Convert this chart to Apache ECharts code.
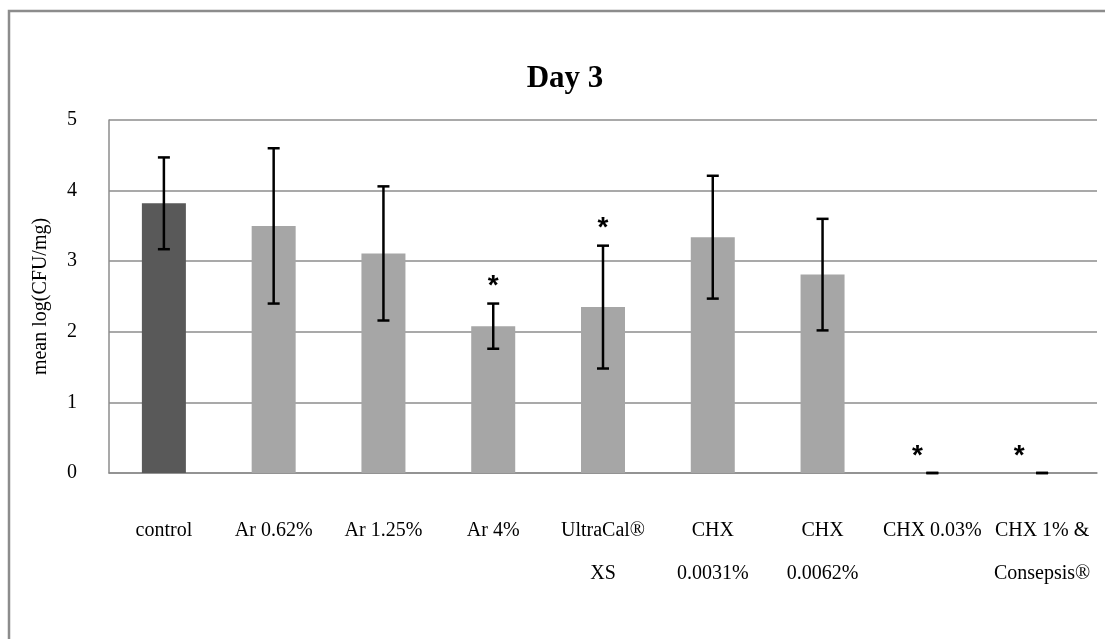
<!DOCTYPE html>
<html>
<head>
<meta charset="utf-8">
<style>
html,body{margin:0;padding:0;background:#fff;}
#chart{width:1105px;height:639px;}
</style>
<script src="https://cdn.jsdelivr.net/npm/echarts@6/dist/echarts.min.js"></script>
</head>
<body>
<div id="chart"></div>
<script>
// ---- data ----
var categories = ['control', 'Ar 0.62%', 'Ar 1.25%', 'Ar 4%', 'UltraCal®\nXS', 'CHX\n0.0031%', 'CHX\n0.0062%', 'CHX 0.03%', 'CHX 1% &\nConsepsis®'];
var means  = [3.82, 3.50, 3.11, 2.08, 2.35, 3.34, 2.81, 0, 0];
var errors = [0.65, 1.10, 0.95, 0.32, 0.87, 0.87, 0.79, 0, 0];
var significant = [false, false, false, true, true, false, false, true, true];
var yTicks = [0, 1, 2, 3, 4, 5];

// ---- styles ----
var serif = '"Liberation Serif", "Times New Roman", serif';
var barColors = ['#595959', '#a6a6a6', '#a6a6a6', '#a6a6a6', '#a6a6a6', '#a6a6a6', '#a6a6a6', '#a6a6a6', '#a6a6a6'];
var starDx = [0, 0, 0, 0, 0, 0, 0, -15, -23];

var chart = echarts.init(document.getElementById('chart'), null, {renderer: 'canvas'});

var barData = means.map(function (v, i) {
  return {value: v, itemStyle: {color: barColors[i]}};
});
var errData = means.map(function (v, i) { return [i, v, errors[i]]; });
var starData = [];
means.forEach(function (v, i) {
  if (significant[i]) starData.push([i, v + errors[i]]);
});

var option = {
  animation: false,
  backgroundColor: '#ffffff',
  title: {
    text: 'Day 3',
    left: 560,
    top: 58,
    textAlign: 'center',
    textStyle: {fontFamily: serif, fontWeight: 'bold', fontSize: 31, color: '#000'}
  },
  graphic: [{
    type: 'rect',
    shape: {x: 9, y: 11, width: 1300, height: 1000},
    style: {fill: 'none', stroke: '#8c8c8c', lineWidth: 2.5},
    silent: true,
    z: -1
  }],
  grid: {left: 109, right: 8, top: 120, bottom: 166},
  xAxis: {
    type: 'category',
    data: categories,
    axisLine: {show: true, lineStyle: {color: '#8c8c8c', width: 1.5}},
    axisTick: {show: false},
    axisLabel: {
      interval: 0,
      margin: 36,
      fontFamily: serif,
      fontSize: 20,
      lineHeight: 43,
      color: '#000'
    }
  },
  yAxis: {
    type: 'value',
    min: yTicks[0],
    max: yTicks[yTicks.length - 1],
    interval: 1,
    name: 'mean log(CFU/mg)',
    nameLocation: 'middle',
    nameGap: 58,
    nameRotate: 90,
    nameTextStyle: {fontFamily: serif, fontSize: 20, color: '#000'},
    axisLine: {show: true, lineStyle: {color: '#8c8c8c', width: 1.5}},
    axisTick: {show: false},
    axisLabel: {margin: 32, fontFamily: serif, fontSize: 20, color: '#000'},
    splitLine: {show: true, lineStyle: {color: '#8c8c8c', width: 1.5}}
  },
  series: [
    {
      type: 'bar',
      data: barData,
      barWidth: 44,
      z: 2
    },
    {
      type: 'custom',
      data: errData,
      z: 5,
      renderItem: function (params, api) {
        var i = api.value(0), m = api.value(1), e = api.value(2);
        var top = api.coord([i, m + e]);
        var bot = api.coord([i, m - e]);
        var hw = 6;
        var st = {stroke: '#000', lineWidth: 2.5};
        return {
          type: 'group',
          children: [
            {type: 'line', shape: {x1: top[0], y1: top[1], x2: bot[0], y2: bot[1]}, style: st},
            {type: 'line', shape: {x1: top[0] - hw, y1: top[1], x2: top[0] + hw, y2: top[1]}, style: st},
            {type: 'line', shape: {x1: bot[0] - hw, y1: bot[1], x2: bot[0] + hw, y2: bot[1]}, style: st}
          ]
        };
      }
    },
    {
      type: 'custom',
      data: starData,
      z: 6,
      renderItem: function (params, api) {
        var i = api.value(0);
        var p = api.coord([i, api.value(1)]);
        return {
          type: 'text',
          x: p[0] + starDx[i],
          y: p[1] - 17,
          style: {
            text: '*',
            font: 'bold 28px "Liberation Sans", Arial, sans-serif',
            fill: '#000',
            align: 'center',
            verticalAlign: 'middle'
          }
        };
      }
    }
  ]
};
chart.setOption(option);
</script>
</body>
</html>
